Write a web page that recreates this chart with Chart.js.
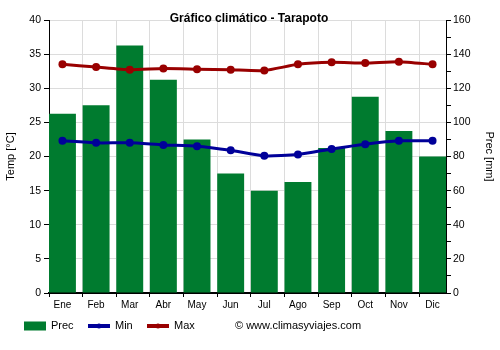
<!DOCTYPE html>
<html>
<head>
<meta charset="utf-8">
<script src="https://cdn.jsdelivr.net/npm/chart.js@4"></script>
<style>
  html, body { margin: 0; padding: 0; background: #fff; }
  #wrap { width: 500px; height: 350px; }
</style>
</head>
<body>
<div id="wrap"><canvas id="clima"></canvas></div>
<script>
// Datos climáticos de Tarapoto
const meses = ['Ene', 'Feb', 'Mar', 'Abr', 'May', 'Jun', 'Jul', 'Ago', 'Sep', 'Oct', 'Nov', 'Dic'];
const precipitacion = [105, 110, 145, 125, 90, 70, 60, 65, 85, 115, 95, 80];
const tempMin = [22.3, 22.0, 22.0, 21.7, 21.5, 20.9, 20.1, 20.3, 21.1, 21.8, 22.3, 22.3];
const tempMax = [33.5, 33.1, 32.7, 32.9, 32.8, 32.7, 32.6, 33.5, 33.8, 33.7, 33.9, 33.5];

const VERDE = '#007b2f';
const AZUL = '#000099';
const ROJO = '#990000';
const FUENTE = '"Liberation Sans", Arial, sans-serif';

const puntos = arr => arr.map((v, i) => ({ x: i, y: v }));

// titulo y leyenda dibujados a mano sobre el canvas
const extras = {
    id: 'extras',
    afterDraw(chart) {
        const c = chart.ctx;
        c.save();
        c.fillStyle = '#000';
        c.font = 'bold 12px ' + FUENTE;
        c.textAlign = 'center';
        c.textBaseline = 'alphabetic';
        c.fillText('Gráfico climático - Tarapoto', 249, 22);

        const y = 326;
        c.font = '11px ' + FUENTE;
        c.textAlign = 'left';
        c.textBaseline = 'middle';

        c.fillStyle = VERDE;
        c.fillRect(24, 321.5, 22, 9);
        c.fillStyle = '#000';
        c.fillText('Prec', 51, y);

        [[AZUL, 'Min', 88], [ROJO, 'Max', 147]].forEach(([col, txt, x0]) => {
            c.strokeStyle = col;
            c.lineWidth = 4;
            c.beginPath();
            c.moveTo(x0, y);
            c.lineTo(x0 + 22, y);
            c.stroke();
            c.fillStyle = col;
            c.beginPath();
            c.arc(x0 + 11, y, 2.5, 0, Math.PI * 2);
            c.fill();
            c.fillStyle = '#000';
            c.fillText(txt, x0 + 27, y);
        });

        c.fillText('© www.climasyviajes.com', 235, y);
        c.restore();
    }
};

new Chart(document.getElementById('clima'), {
    type: 'bar',
    data: {
        datasets: [
            {
                type: 'line',
                label: 'Max',
                data: puntos(tempMax),
                yAxisID: 'y',
                borderColor: ROJO,
                backgroundColor: ROJO,
                borderWidth: 3,
                pointRadius: 4,
                pointBorderWidth: 0,
                tension: 0.2,
                order: 1
            },
            {
                type: 'line',
                label: 'Min',
                data: puntos(tempMin),
                yAxisID: 'y',
                borderColor: AZUL,
                backgroundColor: AZUL,
                borderWidth: 3,
                pointRadius: 4,
                pointBorderWidth: 0,
                tension: 0.2,
                order: 2
            },
            {
                label: 'Prec',
                data: puntos(precipitacion),
                yAxisID: 'y1',
                backgroundColor: VERDE,
                barPercentage: 0.8,
                categoryPercentage: 1,
                order: 3
            }
        ]
    },
    options: {
        responsive: true,
        maintainAspectRatio: false,
        animation: false,
        layout: { padding: { top: 20, left: 0, right: 0, bottom: 0 } },
        plugins: {
            legend: { display: false },
            title: { display: false },
            tooltip: { enabled: false }
        },
        scales: {
            x: {
                type: 'linear',
                min: -0.4,
                max: 11.4,
                offset: false,
                afterBuildTicks: s => { s.ticks = meses.map((m, i) => ({ value: i - 0.4 })); },
                afterFit: s => { s.height = 57; },
                grid: { color: '#dcdcdc', tickColor: '#000', tickLength: 4, offset: false },
                border: { color: '#000', width: 2 },
                ticks: {
                    autoSkip: false,
                    maxRotation: 0,
                    padding: 2,
                    labelOffset: 13.4,
                    color: '#000',
                    font: { family: FUENTE, size: 10 },
                    callback: (v, i) => meses[i]
                }
            },
            y: {
                position: 'left',
                min: 0,
                max: 40,
                afterFit: s => { s.width = 49; },
                grid: { color: '#dcdcdc', tickColor: '#000', tickLength: 5 },
                border: { color: '#000', width: 1 },
                ticks: {
                    stepSize: 5,
                    padding: 3,
                    color: '#000',
                    font: { family: FUENTE, size: 10.5 }
                },
                title: {
                    display: true,
                    text: 'Temp [°C]',
                    color: '#000',
                    padding: { top: 4, bottom: 0 },
                    font: { family: FUENTE, size: 11 }
                }
            },
            y1: {
                position: 'right',
                min: 0,
                max: 160,
                afterFit: s => { s.width = 54; },
                grid: { drawOnChartArea: false, tickColor: '#000', tickLength: 5 },
                border: { color: '#000', width: 1 },
                ticks: {
                    stepSize: 10,
                    autoSkip: false,
                    padding: 2,
                    color: '#000',
                    font: { family: FUENTE, size: 10.5 },
                    callback: v => (v % 20 === 0 ? v : '')
                },
                title: {
                    display: true,
                    text: 'Prec [mm]',
                    color: '#000',
                    padding: { top: 4, bottom: 0 },
                    font: { family: FUENTE, size: 11 }
                }
            }
        }
    },
    plugins: [extras]
});
</script>
</body>
</html>
